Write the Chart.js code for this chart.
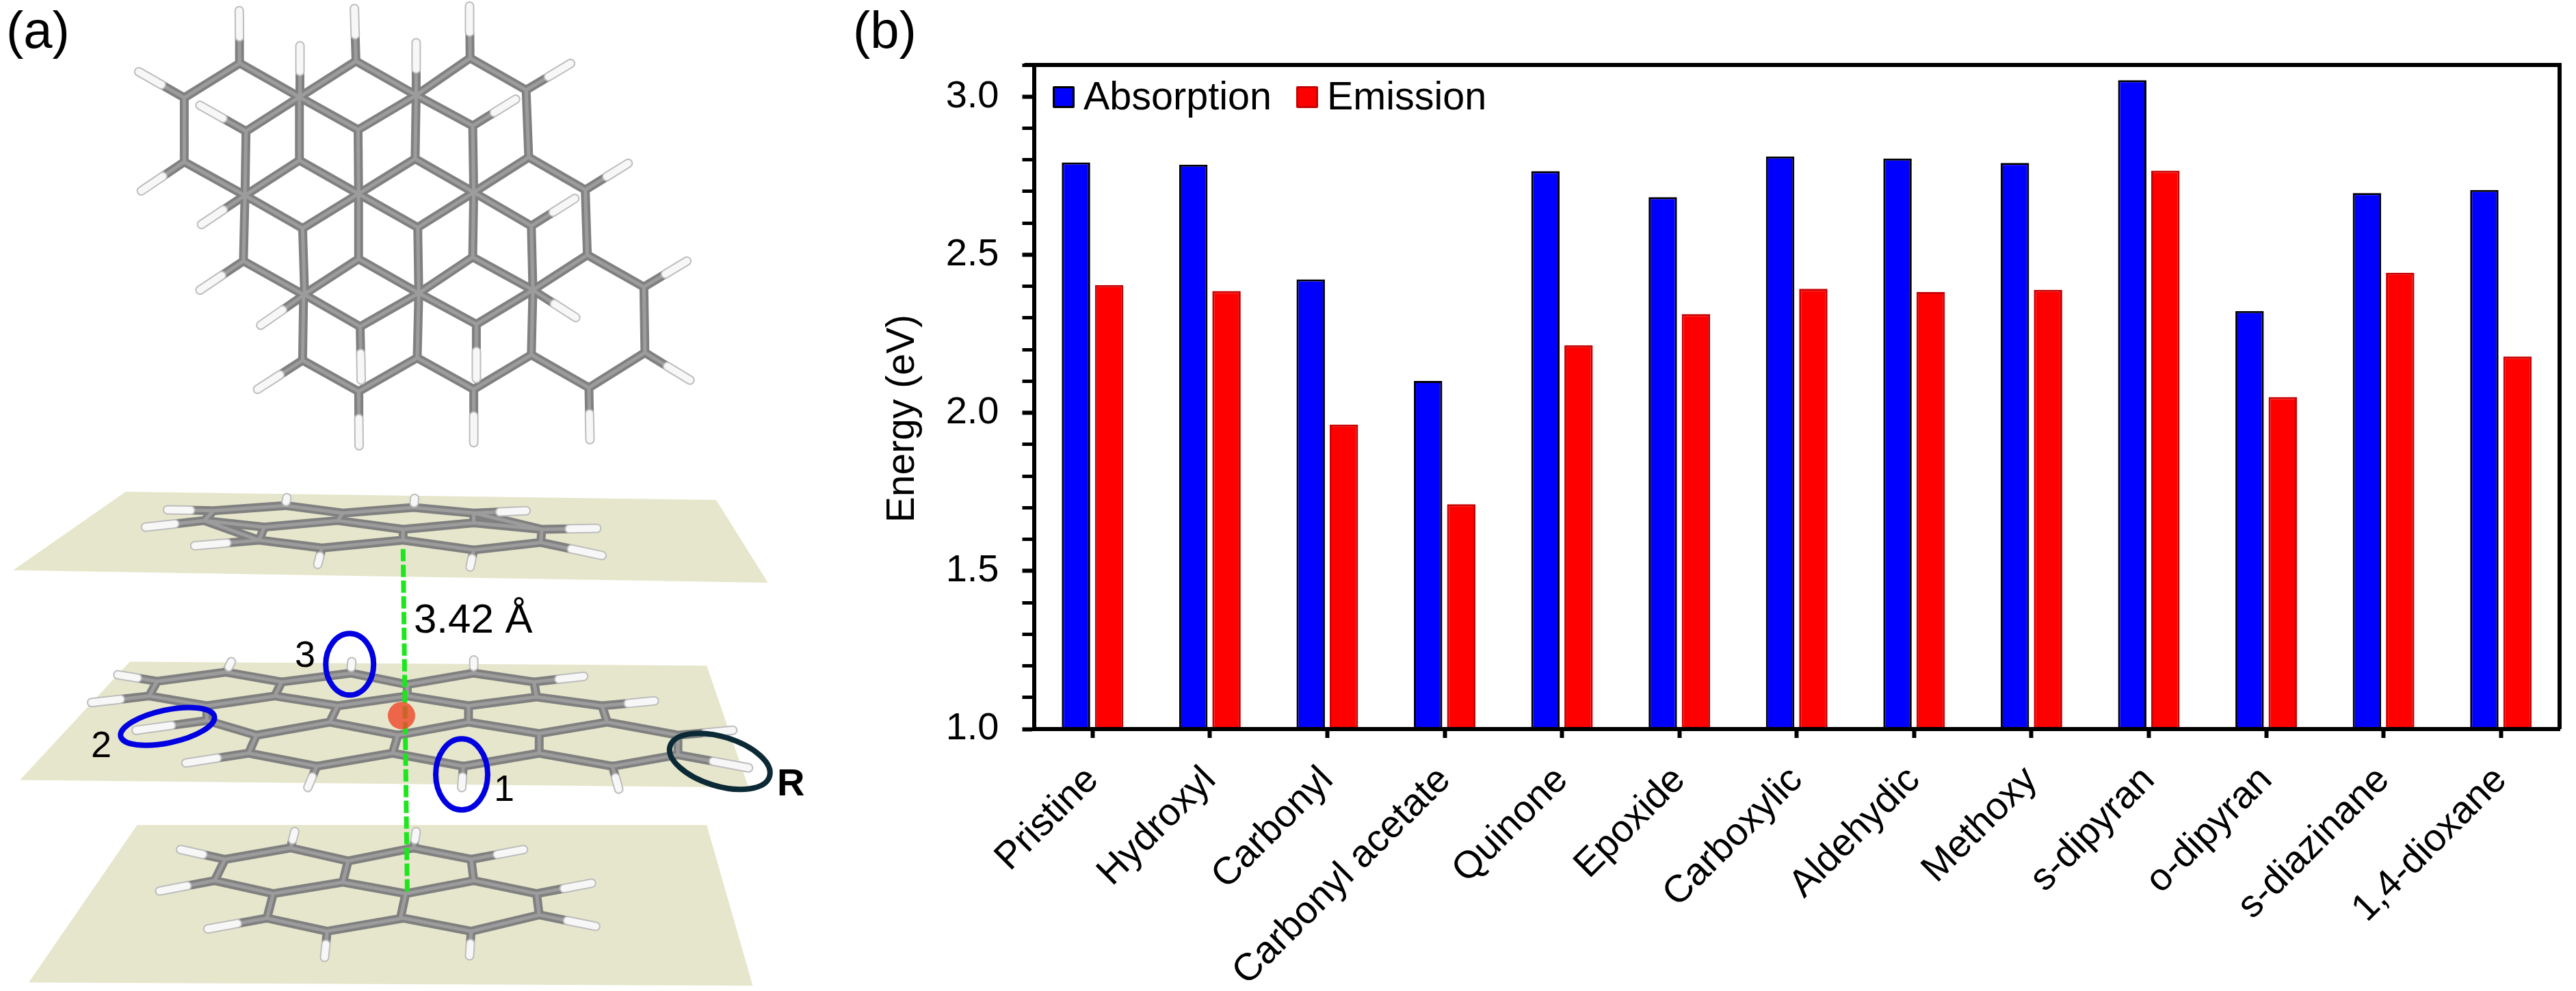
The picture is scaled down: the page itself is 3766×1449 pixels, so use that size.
<!DOCTYPE html>
<html lang="en">
<head>
    <meta charset="UTF-8">
    <title>Absorption and emission energies</title>
    <script src="https://cdn.jsdelivr.net/npm/chart.js"></script>
    <style>
        html, body { margin: 0; padding: 0; background: #fff; }
        body { position: relative; width: 3766px; height: 1449px; overflow: hidden; font-family: "Liberation Sans", Arial, sans-serif; color: #000; }
        canvas { position: absolute; }
        #molTop { left: 0; top: 0; }
        #molStack { left: 0; top: 700px; }
        #energyChart { left: 1280px; top: 0; }
        .lbl { position: absolute; line-height: 1; white-space: pre; }
        .swatch { position: absolute; width: 32px; height: 32px; box-sizing: border-box; border: 3px solid; border-radius: 2px; }
    </style>
</head>
<body>
    <canvas id="molTop" width="1200" height="700"></canvas>
    <canvas id="molStack" width="1200" height="749"></canvas>
    <canvas id="energyChart" width="2486" height="1449"></canvas>

    <div class="lbl" style="left:9px;top:6px;font-size:76px">(a)</div>
    <div class="lbl" style="left:1247px;top:6px;font-size:76px">(b)</div>
    <div class="lbl" style="left:605px;top:875px;font-size:60px">3.42 Å</div>
    <div class="lbl" style="left:431px;top:929px;font-size:54px">3</div>
    <div class="lbl" style="left:133px;top:1061px;font-size:54px">2</div>
    <div class="lbl" style="left:722px;top:1125px;font-size:54px">1</div>
    <div class="lbl" style="left:1136px;top:1116px;font-size:56px;font-weight:bold">R</div>

    <script>
        // bar chart data
        const categories = ['Pristine', 'Hydroxyl', 'Carbonyl', 'Carbonyl acetate', 'Quinone', 'Epoxide', 'Carboxylic',
            'Aldehydic', 'Methoxy', 's-dipyran', 'o-dipyran', 's-diazinane', '1,4-dioxane'];
        const absorption = [2.792, 2.785, 2.422, 2.101, 2.764, 2.682, 2.811, 2.804, 2.79, 3.052, 2.322, 2.695, 2.705];
        const emission = [2.404, 2.385, 1.963, 1.711, 2.214, 2.312, 2.392, 2.382, 2.389, 2.766, 2.05, 2.443, 2.178];
        const seriesNames = ['Absorption', 'Emission'];
        const seriesFill = ['#0000ff', '#ff0000'];
        const seriesEdge = ['#000000', '#c80000'];
        const yLabels = [1.0, 1.5, 2.0, 2.5, 3.0];

        // molecule sketch, coordinates on a 1568 x 1568 grid per panel
        const topChains = [
            [[352,320],[458,207],[572,318],[680,200],[795,312],[898,190],[1005,295]],
            [[352,530],[468,640],[572,525],[685,635],[793,520],[905,630],[1010,515],[1118,622]],
            [[465,855],[580,965],[685,848],[800,960],[903,842],[1018,950],[1122,835],[1230,940]],
            [[578,1180],[685,1282],[797,1172],[905,1275],[1015,1162],[1125,1270],[1232,1155]],
            [[470,430],[572,318],[684,425],[795,312],[903,412]],
            [[468,640],[578,748],[685,635],[798,745],[905,630],[1015,740]],
            [[582,965],[688,1070],[800,960],[910,1062],[1018,950]],
            [[352,320],[352,530]], [[572,318],[572,525]], [[795,312],[793,520]], [[1005,295],[1010,515]],
            [[470,430],[468,640]], [[684,425],[685,635]], [[903,412],[905,630]],
            [[468,640],[465,855]], [[685,635],[685,848]], [[905,630],[903,842]], [[1118,622],[1122,835]],
            [[578,748],[582,965]], [[798,745],[800,960]], [[1015,740],[1018,950]],
            [[580,965],[578,1180]], [[800,960],[797,1172]], [[1018,950],[1015,1162]], [[1230,940],[1232,1155]]
        ];
        const topHydrogens = [
            [[458,207],[457,35]], [[680,200],[677,28]], [[898,190],[897,20]], [[352,320],[265,235]],
            [[1005,295],[1090,208]], [[352,530],[270,625]], [[1118,622],[1200,535]], [[465,855],[382,950]],
            [[1230,940],[1312,855]], [[578,1180],[492,1275]], [[1232,1155],[1318,1245]], [[685,1282],[686,1460]],
            [[905,1275],[905,1450]], [[1125,1270],[1127,1440]], [[573,318],[573,150]], [[795,312],[795,140]],
            [[470,430],[382,345]], [[903,412],[985,325]], [[468,640],[385,735]], [[1015,740],[1098,650]],
            [[582,965],[498,1065]], [[1018,950],[1100,1040]], [[688,1070],[690,1245]], [[910,1062],[910,1240]]
        ];

        const planes = [
            [[240,40],[1368,65],[1467,318],[25,280],[240,40]],
            [[248,560],[1350,572],[1430,945],[38,922],[248,560]],
            [[262,1060],[1350,1060],[1438,1552],[55,1542],[262,1060]]
        ];
        const stackChains = [
            // upper sheet
            [[408,98],[545,82],[655,105],[790,88],[905,105],[1035,155],[1033,195],[905,218],[770,188],[615,212],[495,188],[390,128],[408,98]],
            [[390,128],[505,148],[495,188]], [[505,148],[645,128],[655,105]], [[645,128],[770,155],[770,188]],
            [[770,155],[905,135],[905,105]], [[905,135],[1035,155]],
            // middle sheet
            [[300,620],[432,592],[538,622],[670,595],[778,630],[905,595],[1020,622]],
            [[300,620],[285,665],[395,695],[525,665],[538,622]],
            [[525,665],[645,695],[778,665],[778,630]],
            [[778,665],[895,695],[1025,668],[1020,622]],
            [[1025,668],[1150,695],[1160,745],[1030,780],[895,745],[895,695]],
            [[895,745],[760,785],[630,745],[645,695]],
            [[630,745],[490,785],[395,740],[395,695]],
            [[490,785],[475,840],[605,880],[750,840],[760,785]],
            [[750,840],[885,880],[1030,840],[1030,780]],
            [[1030,840],[1170,880],[1295,845],[1295,785],[1160,745]],
            // lower sheet
            [[430,1165],[555,1130],[665,1170],[790,1130],[900,1165],[905,1230],[1025,1270],[1030,1335],[900,1385],[770,1345],[625,1385],[510,1345],[522,1270],[410,1230],[430,1165]],
            [[522,1270],[655,1235],[665,1170]], [[655,1235],[775,1270],[905,1230]], [[775,1270],[765,1345]]
        ];
        const stackHydrogens = [
            [[408,98],[320,95]], [[390,128],[278,148]], [[495,188],[372,205]], [[615,212],[607,262]],
            [[905,218],[898,270]], [[1033,195],[1150,235]], [[1035,155],[1140,152]], [[905,105],[1005,98]],
            [[790,88],[792,60]], [[545,82],[548,58]],
            [[300,620],[225,600]], [[285,665],[175,685]], [[395,740],[260,770]], [[475,840],[355,870]],
            [[605,880],[588,945]], [[885,880],[882,945]], [[1170,880],[1182,950]], [[1295,845],[1430,885]],
            [[1295,785],[1400,770]], [[1150,695],[1250,680]], [[1020,622],[1115,605]], [[905,595],[905,555]],
            [[670,595],[672,560]], [[432,592],[442,560]],
            [[430,1165],[345,1135]], [[410,1230],[305,1262]], [[510,1345],[397,1378]], [[625,1385],[620,1465]],
            [[900,1385],[897,1460]], [[1030,1335],[1138,1370]], [[1025,1270],[1130,1238]], [[900,1165],[1000,1135]],
            [[790,1130],[795,1080]], [[555,1130],[563,1080]]
        ];
        const spacingLine = [[[770,215],[778,1265]]];
        const sphere = [[767,725]];
        // x, y on the grid, then radii (px) and tilt (deg)
        const rings = [
            { x: 668, y: 568, rx: 35, ry: 45, tilt: 0, color: '#0000e0' },
            { x: 320, y: 758, rx: 70, ry: 24, tilt: -12, color: '#0000e0' },
            { x: 882, y: 905, rx: 38, ry: 52, tilt: 0, color: '#0000e0' },
            { x: 1375, y: 865, rx: 76, ry: 36, tilt: 17, color: '#0b2a35' }
        ];

        function toPoints(chains) {
            const pts = [];
            chains.forEach(chain => {
                chain.forEach(p => pts.push({ x: p[0], y: p[1] }));
                pts.push({ x: null, y: null });
            });
            return pts;
        }

        // carbon half and hydrogen half of a C-H bond
        function halfBonds(list, part) {
            return list.map(([c, h]) => {
                const mid = [(c[0] + h[0]) / 2, (c[1] + h[1]) / 2];
                return part === 'C' ? [c, mid] : [mid, h];
            });
        }

        function stroke(chains, color, width, extra) {
            return Object.assign({
                data: toPoints(chains), showLine: true, borderColor: color, borderWidth: width,
                borderCapStyle: 'round', borderJoinStyle: 'round', pointRadius: 0
            }, extra || {});
        }

        function moleculeLayers(chains, hydrogens) {
            const bonds = chains.concat(halfBonds(hydrogens, 'C'));
            const tips = halfBonds(hydrogens, 'H');
            return [
                stroke(bonds, '#808080', 13),
                stroke(bonds, '#9c9c9c', 5),
                stroke(tips, '#bdbdbd', 14),
                stroke(tips, '#f7f7f7', 10)
            ];
        }

        const ringPlugin = {
            id: 'rings',
            afterDatasetsDraw(chart) {
                const { ctx, scales } = chart;
                rings.forEach(r => {
                    ctx.save();
                    ctx.strokeStyle = r.color;
                    ctx.lineWidth = 8;
                    ctx.beginPath();
                    ctx.ellipse(scales.x.getPixelForValue(r.x), scales.y.getPixelForValue(r.y), r.rx, r.ry, r.tilt * Math.PI / 180, 0, Math.PI * 2);
                    ctx.stroke();
                    ctx.restore();
                });
            }
        };

        function sketchChart(id, datasets, plugins) {
            return new Chart(document.getElementById(id), {
                type: 'scatter',
                // chart.js paints the first dataset last
                data: { datasets: datasets.slice().reverse() },
                plugins: plugins,
                options: {
                    responsive: false,
                    animation: false,
                    events: [],
                    layout: { padding: 0, autoPadding: false },
                    plugins: { legend: { display: false }, tooltip: { enabled: false } },
                    scales: {
                        x: { type: 'linear', display: false, min: 0, max: 1568 },
                        y: { type: 'linear', display: false, min: 0, max: 1568, reverse: true }
                    }
                }
            });
        }

        sketchChart('molTop', moleculeLayers(topChains, topHydrogens), []);

        sketchChart('molStack', [
            ...planes.map(p => ({
                data: toPoints([p]).slice(0, -1), showLine: true, borderWidth: 0, pointRadius: 0,
                fill: 'shape', backgroundColor: '#e6e6cc'
            })),
            ...moleculeLayers(stackChains, stackHydrogens),
            stroke(spacingLine, '#1ee61e', 7, { borderDash: [18, 5], borderCapStyle: 'butt' }),
            { data: toPoints([sphere]).slice(0, -1), pointRadius: 20, pointBackgroundColor: 'rgba(240,70,40,0.8)', pointBorderWidth: 0 }
        ], [ringPlugin]);

        // top and right spines
        const framePlugin = {
            id: 'frame',
            afterDraw(chart) {
                const { ctx, chartArea: a } = chart;
                ctx.save();
                ctx.strokeStyle = '#000';
                ctx.lineWidth = 6;
                ctx.beginPath();
                ctx.moveTo(a.left - 14, a.top);
                ctx.lineTo(a.right, a.top);
                ctx.lineTo(a.right, a.bottom);
                ctx.stroke();
                ctx.restore();
            }
        };

        const tickFont = { family: '"Liberation Sans", Arial, sans-serif', size: 56 };

        new Chart(document.getElementById('energyChart'), {
            type: 'bar',
            data: {
                labels: categories,
                datasets: [absorption, emission].map((values, i) => ({
                    label: seriesNames[i],
                    data: values,
                    backgroundColor: seriesFill[i],
                    borderColor: seriesEdge[i],
                    borderWidth: 3,
                    categoryPercentage: 0.565,
                    barPercentage: 0.856
                }))
            },
            plugins: [framePlugin],
            options: {
                responsive: false,
                animation: false,
                events: [],
                layout: { padding: { top: 95, right: 24, left: 0, bottom: 0 } },
                plugins: { legend: { display: false }, tooltip: { enabled: false } },
                scales: {
                    x: {
                        grid: { offset: false, drawOnChartArea: false, tickLength: 13, tickWidth: 6, tickColor: '#000' },
                        border: { color: '#000', width: 6, z: 1 },
                        ticks: { font: tickFont, color: '#000', minRotation: 45, maxRotation: 45, padding: 29, autoSkip: false },
                        afterFit(scale) { scale.height = 383; }
                    },
                    y: {
                        min: 1,
                        max: 3.1,
                        grid: {
                            drawOnChartArea: false,
                            tickLength: 17,
                            tickColor: '#000',
                            tickWidth: ctx => (yLabels.includes(Math.round(ctx.tick.value * 10) / 10) ? 6 : 5)
                        },
                        border: { color: '#000', width: 6, z: 1 },
                        title: {
                            display: true,
                            text: 'Energy (eV)    ',
                            font: { family: tickFont.family, size: 57 },
                            color: '#000',
                            padding: { top: 6, bottom: 0 }
                        },
                        ticks: {
                            stepSize: 0.1,
                            autoSkip: false,
                            font: tickFont,
                            color: '#000',
                            padding: 34,
                            callback: v => (yLabels.includes(Math.round(v * 10) / 10) ? v.toFixed(1) : '')
                        },
                        afterFit(scale) { scale.width = 231.5; }
                    }
                }
            }
        });

        // legend sits inside the plot, so it is plain html
        const legendLeft = [1539, 1895];
        seriesNames.forEach((name, i) => {
            const box = document.createElement('div');
            box.className = 'swatch';
            box.style.cssText = `left:${legendLeft[i]}px;top:126px;background:${seriesFill[i]};border-color:${seriesEdge[i]}`;
            document.body.appendChild(box);
            const txt = document.createElement('div');
            txt.className = 'lbl';
            txt.textContent = name;
            txt.style.cssText = `left:${legendLeft[i] + 45}px;top:112px;font-size:57.5px`;
            document.body.appendChild(txt);
        });
    </script>
</body>
</html>
